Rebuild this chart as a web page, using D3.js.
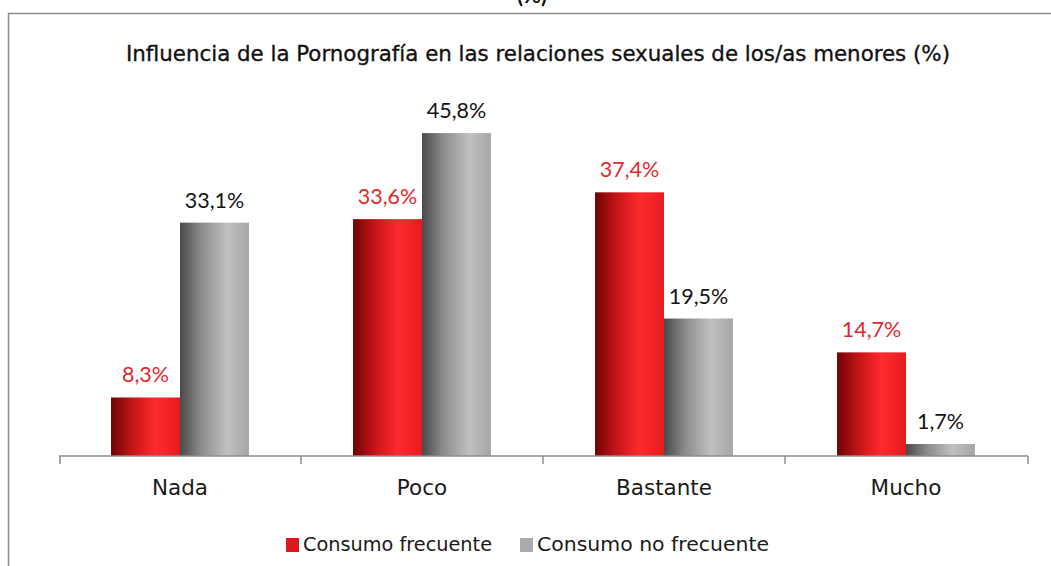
<!DOCTYPE html>
<html>
	<head>
		<meta charset="utf-8">
		<script src="https://d3js.org/d3.v7.min.js"></script>
		<style>
			body { margin: 0; background: #fff; }
		</style>
	</head>
	<body>
		<script>
			// Datos
			var categorias = ["Nada", "Poco", "Bastante", "Mucho"];
			var series = ["Consumo frecuente", "Consumo no frecuente"];
			var frecuente = [8.3, 33.6, 37.4, 14.7];
			var noFrecuente = [33.1, 45.8, 19.5, 1.7];

			var width = 1051, height = 566;
			var baseY = 456;

			var svg = d3.select("body").append("svg")
				.attr("width", width)
				.attr("height", height);

			var defs = svg.append("defs");

			var gRojo = defs.append("linearGradient").attr("id", "rojo")
				.attr("x1", "0%").attr("x2", "100%").attr("y1", "0%").attr("y2", "0%");
			[["0%", "#6e0404"], ["30%", "#c21418"], ["65%", "#ff2b2e"], ["100%", "#e41c1f"]].forEach(function(s){
				gRojo.append("stop").attr("offset", s[0]).attr("stop-color", s[1]);
			});

			var gGris = defs.append("linearGradient").attr("id", "gris")
				.attr("x1", "0%").attr("x2", "100%").attr("y1", "0%").attr("y2", "0%");
			[["0%", "#4a4a4a"], ["30%", "#8a8a8a"], ["68%", "#c0c0c0"], ["100%", "#a6a6a6"]].forEach(function(s){
				gGris.append("stop").attr("offset", s[0]).attr("stop-color", s[1]);
			});

			// texto cortado arriba (como en el original)
			svg.append("text")
				.attr("x", 532).attr("y", 3)
				.attr("text-anchor", "middle")
				.style("font-family", "Lato, sans-serif")
				.style("font-weight", "bold")
				.style("font-size", "22px")
				.attr("fill", "#111")
				.text("(%)");

			// marco
			svg.append("path")
				.attr("d", "M8.5," + height + "V13.5H" + width)
				.attr("fill", "none")
				.attr("stroke", "#8c8c8c")
				.attr("stroke-width", 1.5);

			// título
			svg.append("text")
				.attr("x", 126).attr("y", 61)
				.attr("textLength", 824)
				.attr("lengthAdjust", "spacingAndGlyphs")
				.style("font-family", "'DejaVu Sans Condensed', 'DejaVu Sans', sans-serif")
				.style("font-size", "21px")
				.attr("fill", "#111")
				.attr("stroke", "#111")
				.attr("stroke-width", 0.3)
				.text("Influencia de la Pornografía en las relaciones sexuales de los/as menores (%)");

			var x0 = d3.scaleBand().domain(categorias).range([59, 1027])
				.paddingInner(0.43).paddingOuter(0.215);
			var x1 = d3.scaleBand().domain(series).range([0, x0.bandwidth()]);
			var y = d3.scaleLinear().domain([0, 50]).range([baseY, 103.5]);

			var datos = categorias.map(function(c, i){
				return { cat: c, vals: [
					{ s: series[0], v: frecuente[i] },
					{ s: series[1], v: noFrecuente[i] }
				]};
			});

			var grupos = svg.selectAll("g.cat").data(datos).enter().append("g")
				.attr("class", "cat")
				.attr("transform", function(d){ return "translate(" + x0(d.cat) + ",0)"; });

			grupos.selectAll("rect").data(function(d){ return d.vals; }).enter().append("rect")
				.attr("x", function(d){ return x1(d.s); })
				.attr("y", function(d){ return y(d.v); })
				.attr("width", x1.bandwidth())
				.attr("height", function(d){ return baseY - y(d.v); })
				.attr("fill", function(d, i){ return i === 0 ? "url(#rojo)" : "url(#gris)"; });

			grupos.selectAll("text.val").data(function(d){ return d.vals; }).enter().append("text")
				.attr("class", "val")
				.attr("x", function(d){ return x1(d.s) + x1.bandwidth() / 2; })
				.attr("y", function(d){ return y(d.v) - 15; })
				.attr("text-anchor", "middle")
				.style("font-family", "Lato, sans-serif")
				.style("font-size", "21.5px")
				.attr("fill", function(d, i){ return i === 0 ? "#e2282d" : "#141414"; })
				.text(function(d){ return d.v.toFixed(1).replace(".", ",") + "%"; });

			// eje x
			var xAxis = d3.axisBottom(x0).tickSize(0).tickPadding(0);
			var eje = svg.append("g").attr("transform", "translate(0," + baseY + ")").call(xAxis);
			eje.select(".domain").attr("stroke", "#8c8c8c").attr("stroke-width", 1.5)
				.attr("d", "M59,0H1028");
			eje.selectAll(".tick text")
				.attr("y", 39)
				.attr("dy", 0)
				.style("font-family", "'DejaVu Sans', sans-serif")
				.style("font-size", "21.5px")
				.attr("fill", "#1a1a1a");

			// marcas entre categorías
			var bordes = categorias.map(function(c){ return x0(c) - x0.step() * x0.paddingInner() / 2; });
			bordes.push(1028);
			bordes[0] = 60;
			svg.selectAll("line.marca").data(bordes).enter().append("line")
				.attr("class", "marca")
				.attr("x1", function(d){ return d; }).attr("x2", function(d){ return d; })
				.attr("y1", baseY).attr("y2", baseY + 8)
				.attr("stroke", "#8c8c8c").attr("stroke-width", 1.5);

			// leyenda
			var leyenda = svg.append("g").attr("transform", "translate(286,538)");
			var posLeyenda = [0, 234];
			var anchoLeyenda = [189, 232];
			series.forEach(function(s, i){
				var g = leyenda.append("g").attr("transform", "translate(" + posLeyenda[i] + ",0)");
				g.append("rect").attr("width", 13).attr("height", 14)
					.attr("fill", i === 0 ? "#e0181e" : "#aaaaaa");
				g.append("text").attr("x", 17).attr("y", 13)
					.attr("textLength", anchoLeyenda[i])
					.attr("lengthAdjust", "spacingAndGlyphs")
					.style("font-family", "'DejaVu Sans', sans-serif")
					.style("font-size", "19.5px")
					.attr("fill", "#1a1a1a")
					.text(s);
			});
		</script>
	</body>
</html>
